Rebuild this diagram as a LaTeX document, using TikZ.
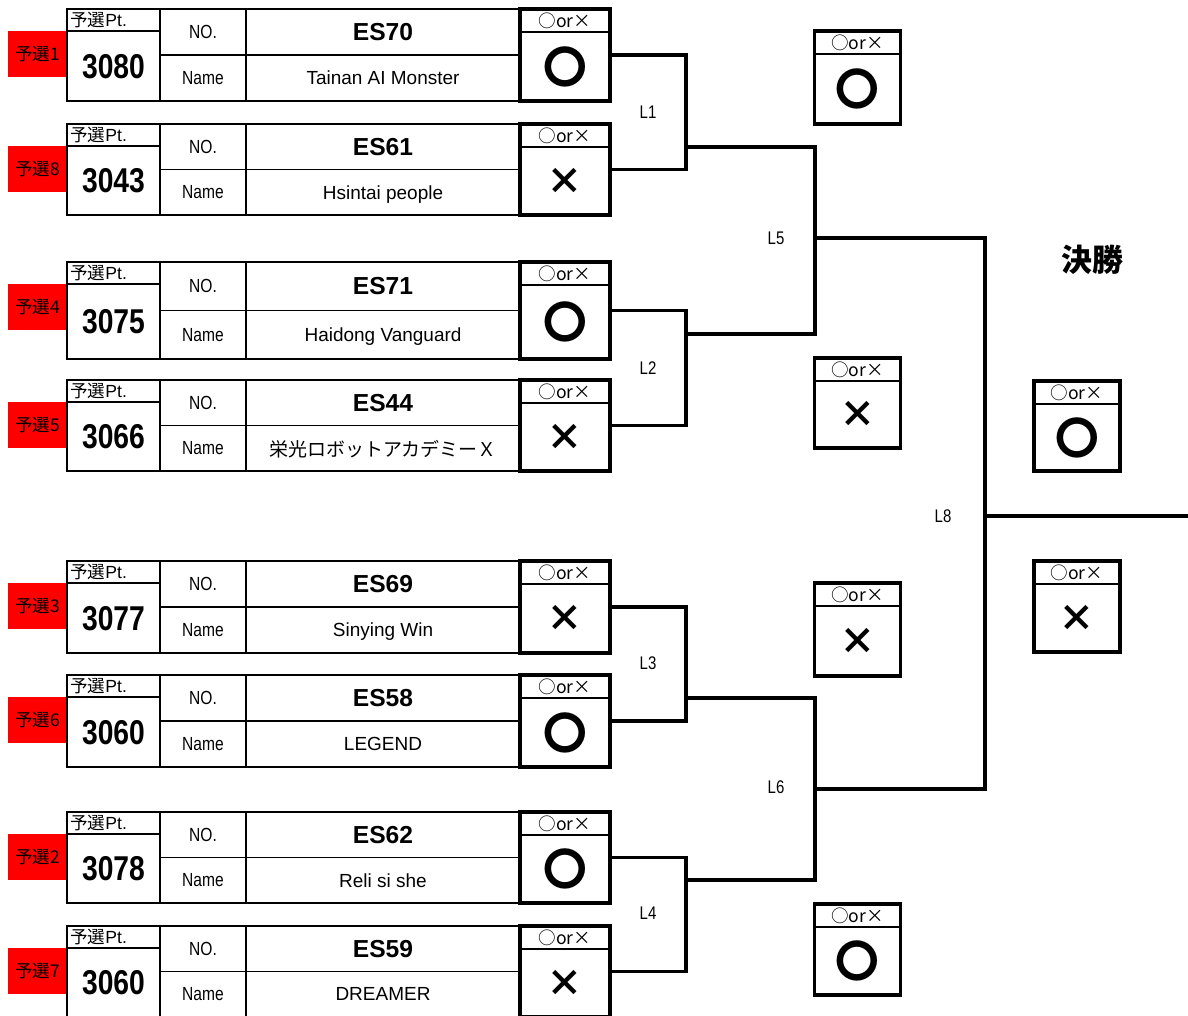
\documentclass[tikz,border=0pt]{standalone}
\usepackage{fontspec}
\setmainfont{Liberation Sans}
\newfontfamily\jp{Noto Sans CJK JP}
\newfontfamily\narrow[FakeStretch=0.82]{Liberation Sans}
\newcommand{\mko}{{\jp\bfseries\fontsize{31}{31}\selectfont 〇}}
\newcommand{\mkx}{{\jp\bfseries\fontsize{26}{26}\selectfont ×}}

\begin{document}
\begin{tikzpicture}[
    x=0.025cm, y=-0.025cm,
    tbl/.style={draw=black, line width=1.4pt},
    sep/.style={draw=black, line width=0.8pt},
    rankbox/.style={rectangle, fill=red, inner sep=0pt, outer sep=0pt, minimum width=1.475cm, minimum height=1.15cm, font=\jp\fontsize{12.5}{12.5}\selectfont},
    mkbox/.style={rectangle, draw=black, line width=2.4pt, inner sep=0pt, outer sep=0pt},
    hdtxt/.style={inner sep=0pt, font=\fontsize{12.5}{12.5}\selectfont},
    pttxt/.style={inner sep=0pt, text depth=0pt, font=\narrow\bfseries\fontsize{24.5}{24.5}\selectfont},
    lbtxt/.style={inner sep=0pt, text depth=0pt, font=\narrow\fontsize{13.5}{13.5}\selectfont},
    notxt/.style={inner sep=0pt, text depth=0pt, font=\bfseries\fontsize{17.5}{17.5}\selectfont},
    nmtxt/.style={inner sep=0pt, text depth=0pt, font=\fontsize{13.5}{13.5}\selectfont},
    oxtxt/.style={inner sep=0pt, font=\jp\fontsize{12.5}{12.5}\selectfont},
    br/.style={draw=black, line width=2.5pt},
    rd/.style={inner sep=0pt, text depth=0pt, font=\narrow\fontsize{13}{13}\selectfont}
]
    \useasboundingbox (0,0) rectangle (1188,1015);

    % team rows
    \foreach \k/\ya/\yb/\rk/\ps/\no/\nm/\mk in {
        1/9/101/1/3080/ES70/{Tainan AI Monster}/\mko,
        2/124/215/8/3043/ES61/{Hsintai people}/\mkx,
        3/262/359/4/3075/ES71/{Haidong Vanguard}/\mko,
        4/380/471/5/3066/ES44/{\jp 栄光ロボットアカデミーＸ}/\mkx,
        5/561/653/3/3077/ES69/{Sinying Win}/\mkx,
        6/675/767/6/3060/ES58/{LEGEND}/\mko,
        7/812/903/2/3078/ES62/{Reli si she}/\mko,
        8/926/1017/7/3060/ES59/{DREAMER}/\mkx}{
        \pgfmathsetmacro\yh{\ya+22}
        \pgfmathsetmacro\ym{(\ya+\yb)/2}
        \node [rankbox] (rk\k) at (37.5,\yh+23) {予選\rk};
        \draw [tbl] (67,\ya) rectangle (520,\yb);
        \draw [sep] (67,\yh) -- (160,\yh) (160,\ya) -- (160,\yb)
            (246,\ya) -- (246,\yb) (160,\ym) -- (520,\ym);
        \node [hdtxt, anchor=west] (hd\k) at (70,\ya+11) {{\jp 予選}Pt.};
        \node [pttxt] (ps\k) at (113.5,{(\yh+\yb)/2}) {\ps};
        \node [lbtxt] (nol\k) at (203,{(\ya+\ym)/2}) {NO.};
        \node [lbtxt] (nml\k) at (203,{(\ym+\yb)/2}) {Name};
        \node [notxt] (no\k) at (383,{(\ya+\ym)/2}) {\no};
        \node [nmtxt] (nm\k) at (383,{(\ym+\yb)/2}) {\nm};
        \node [mkbox, minimum width=2.25cm, minimum height={(\yb-\ya)*0.025cm}] (mk\k) at (565,\ym) {};
        \draw [sep] ([yshift=-0.575cm]mk\k.north west) -- ([yshift=-0.575cm]mk\k.north east);
        \node [oxtxt] (oxh\k) at (565,\ya+12) {○or×};
        \node (ox\k) at (565,{(\ya+23+\yb)/2}) {\mk};
    }

    % result boxes
    \foreach \n/\x/\ya/\yb/\mk in {
        wa/857.5/31/124/\mko, wb/857.5/358/448/\mkx,
        wc/857.5/583/676/\mkx, wd/857.5/904/995/\mko,
        fe/1077/381/471/\mko, ff/1077/561/652/\mkx}{
        \node [mkbox, minimum width=2.15cm, minimum height={(\yb-\ya)*0.025cm}] (\n) at (\x,{(\ya+\yb)/2}) {};
        \draw [sep] ([yshift=-0.575cm]\n.north west) -- ([yshift=-0.575cm]\n.north east);
        \node [oxtxt] (\n-h) at (\x,\ya+12) {○or×};
        \node (\n-m) at (\x,{(\ya+23+\yb)/2}) {\mk};
    }

    \node [inner sep=0pt, font=\jp\bfseries\fontsize{22}{22}\selectfont] (final) at (1092,260) {決勝};

    % bracket
    \coordinate (j1) at (686,147);
    \coordinate (j2) at (686,334);
    \coordinate (j3) at (686,698);
    \coordinate (j4) at (686,880);
    \coordinate (j5) at (815,238);
    \coordinate (j6) at (815,789);
    \coordinate (j8) at (985,516);
    \coordinate (out) at (1188,516);

    \draw [br] (mk1.east) -| (j1) |- (mk2.east);
    \draw [br] (mk3.east) -| (j2) |- (mk4.east);
    \draw [br] (mk5.east) -| (j3) |- (mk6.east);
    \draw [br] (mk7.east) -| (j4) |- (mk8.east);
    \draw [br] (j1) -| (j5) |- (j2);
    \draw [br] (j3) -| (j6) |- (j4);
    \draw [br] (j5) -| (j8) |- (j6);
    \draw [br] (j8) -- (out);

    \node [rd] (l1) at (648,112) {L1};
    \node [rd] (l2) at (648,368) {L2};
    \node [rd] (l3) at (648,663) {L3};
    \node [rd] (l4) at (648,913) {L4};
    \node [rd] (l5) at (776,238) {L5};
    \node [rd] (l6) at (776,787) {L6};
    \node [rd] (l8) at (943,516) {L8};
\end{tikzpicture}
\end{document}
